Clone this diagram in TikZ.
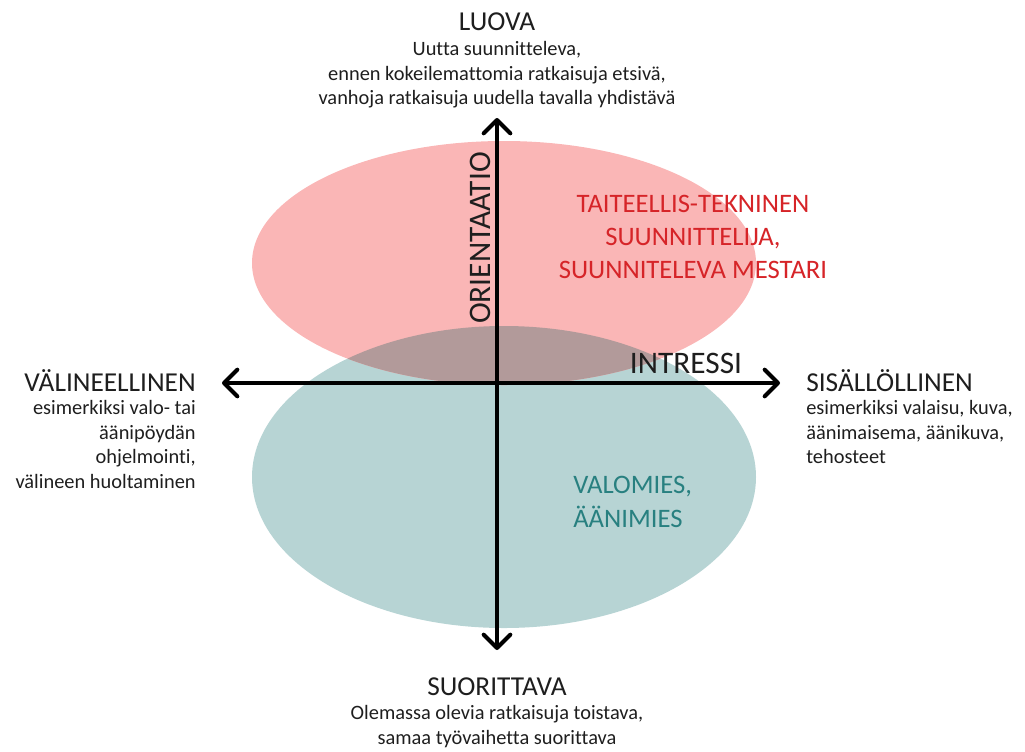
\documentclass[tikz,border=0pt]{standalone}
\usepackage{fontspec}
\setmainfont{Carlito}[Ligatures=CommonOff]
\usetikzlibrary{arrows.meta}
\definecolor{pinkfill}{RGB}{250,182,182}
\definecolor{tealfill}{RGB}{183,212,212}
\definecolor{mixfill}{RGB}{178,154,154}
\definecolor{redtext}{RGB}{214,36,40}
\definecolor{tealtext}{RGB}{40,128,128}
\definecolor{textgray}{RGB}{30,30,30}
\tikzset{
  axis/.style={line width=3pt, -{Straight Barb[length=10pt, width=20pt, line width=3pt, line cap=round, line join=round]}},
  pole/.style={font=\fontsize{20.5}{24}\selectfont, text=textgray, inner sep=0pt},
  axisname/.style={font=\fontsize{23.5}{26}\selectfont, text=textgray, inner sep=0pt},
  note/.style={font=\fontsize{15.3}{18.5}\selectfont, text=textgray, inner sep=0pt},
  role/.style={font=\fontsize{20}{25}\selectfont, inner sep=0pt}
}
\begin{document}
\begin{tikzpicture}[x=0.75pt, y=-0.75pt]
\useasboundingbox (0,0) rectangle (1025,751);
% two overlapping fields
\fill[tealfill] (504,477) ellipse [x radius=252, y radius=151];
\fill[pinkfill] (504,263) ellipse [x radius=252, y radius=122];
\begin{scope}
  \clip (504,477) ellipse [x radius=252, y radius=151];
  \fill[mixfill] (504,263) ellipse [x radius=252, y radius=122];
\end{scope}
% axes
\coordinate (ctr) at (497,383);
\coordinate (top) at (497,118);
\coordinate (bot) at (497,650);
\coordinate (lft) at (222,383);
\coordinate (rgt) at (780,383);
\draw[axis] (ctr) -- (top);
\draw[axis] (ctr) -- (bot);
\draw[axis] (ctr) -- (lft);
\draw[axis] (ctr) -- (rgt);
% axis names
\node[axisname, rotate=90] (orient) at (480,238) {ORIENTAATIO};
\node[axisname] (intr) at (686,363) {INTRESSI};
% poles
\node[pole] (luova) at (497,22) {LUOVA};
\node[note, align=center, anchor=north] (luovatxt) at (497,41) {Uutta suunnitteleva,\\ennen kokeilemattomia ratkaisuja etsivä,\\vanhoja ratkaisuja uudella tavalla yhdistävä};
\node[pole] (suor) at (497,687) {SUORITTAVA};
\node[note, align=center, anchor=north] (suortxt) at (497,705) {Olemassa olevia ratkaisuja toistava,\\samaa työvaihetta suorittava};
\node[pole, anchor=east] (vali) at (196,381) {VÄLINEELLINEN};
\node[note, align=right, anchor=north east] (valitxt) at (196,400) {esimerkiksi valo- tai\\äänipöydän\\ohjelmointi,\\välineen huoltaminen};
\node[pole, anchor=west] (sisa) at (806,381) {SISÄLLÖLLINEN};
\node[note, align=left, anchor=north west] (sisatxt) at (806,400) {esimerkiksi valaisu, kuva,\\äänimaisema, äänikuva,\\tehosteet};
% roles
\node[role, text=redtext, align=center] (taide) at (693,237) {TAITEELLIS-TEKNINEN\\SUUNNITTELIJA,\\SUUNNITELEVA MESTARI};
\node[role, text=tealtext, align=left, anchor=west] (valo) at (573,502) {VALOMIES,\\ÄÄNIMIES};
\end{tikzpicture}
\end{document}
